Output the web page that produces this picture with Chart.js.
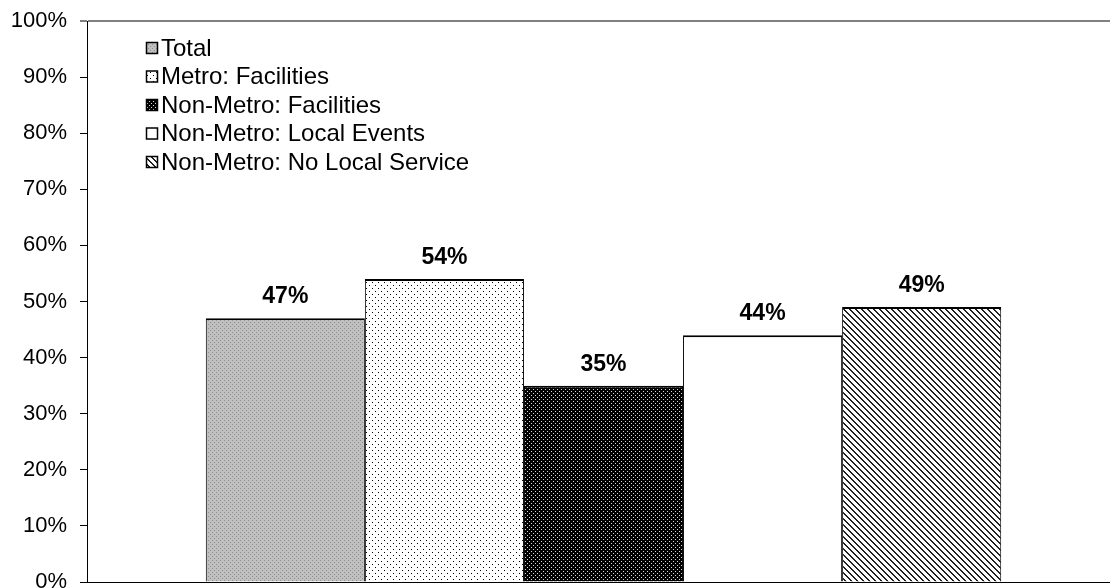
<!DOCTYPE html>
<html>
<head>
<meta charset="utf-8">
<script src="https://cdn.jsdelivr.net/npm/chart.js@4.4.1/dist/chart.umd.min.js"></script>
<style>
  html, body { margin: 0; padding: 0; background: #fff; }
  #wrap { width: 1110px; height: 588px; }
</style>
</head>
<body>
<div id="wrap"><canvas id="chart" width="1110" height="588"></canvas></div>
<script>
// one unnamed category, five series
const categories = [''];
const seriesNames = [
    'Total',
    'Metro: Facilities',
    'Non-Metro: Facilities',
    'Non-Metro: Local Events',
    'Non-Metro: No Local Service'
];
const seriesValues = [47, 54, 35, 44, 49];
const yTickValues = [0, 10, 20, 30, 40, 50, 60, 70, 80, 90, 100];

const FONT = '"Liberation Sans", Arial, sans-serif';

// small tiles turned into canvas patterns for the bar fills
function makePattern(size, paint) {
    const c = document.createElement('canvas');
    c.width = size;
    c.height = size;
    const g = c.getContext('2d');
    paint(g, size);
    return g.createPattern(c, 'repeat');
}

function dotTile(bg, dot, points) {
    return (g, s) => {
        g.fillStyle = bg;
        g.fillRect(0, 0, s, s);
        g.fillStyle = dot;
        points.forEach(p => g.fillRect(p[0], p[1], 1, 1));
    };
}

const fills = [
    makePattern(4, dotTile('#c0c0c0', '#8c8c8c', [[0, 0], [2, 2]])),
    makePattern(6, dotTile('#ffffff', '#000000', [[0, 0], [3, 3]])),
    makePattern(4, dotTile('#000000', '#d8d8d8', [[1, 1], [3, 3]])),
    '#ffffff',
    makePattern(6, (g, s) => {
        g.fillStyle = '#ffffff';
        g.fillRect(0, 0, s, s);
        g.fillStyle = '#202020';
        for (let y = 0; y < s; y++) {
            for (let x = 0; x < s; x++) {
                const d = ((x - y) % s + s) % s;
                if (d < 2) g.fillRect(x, y, 1, 1);
            }
        }
    })
];

// the plot area runs a little past the right edge of the canvas
const widenPlot = {
    id: 'widenPlot',
    afterLayout(chart) {
        const extra = 10;
        const x = chart.scales.x;
        x.right += extra;
        x.width += extra;
        x.configure();
        chart.chartArea.right += extra;
        chart.chartArea.width += extra;
    }
};

// value labels above each bar
const valueLabels = {
    id: 'valueLabels',
    afterDatasetsDraw(chart) {
        const ctx = chart.ctx;
        ctx.save();
        ctx.font = 'bold 23px ' + FONT;
        ctx.fillStyle = '#000';
        ctx.textAlign = 'center';
        ctx.textBaseline = 'alphabetic';
        chart.data.datasets.forEach((ds, i) => {
            const bar = chart.getDatasetMeta(i).data[0];
            ctx.fillText(ds.data[0] + '%', bar.x, bar.y - 15);
        });
        ctx.restore();
    }
};

// legend drawn inside the plot, top left
const insideLegend = {
    id: 'insideLegend',
    afterDraw(chart) {
        const ctx = chart.ctx;
        ctx.save();
        ctx.font = '24px ' + FONT;
        ctx.textBaseline = 'middle';
        ctx.textAlign = 'left';
        chart.data.datasets.forEach((ds, i) => {
            const cy = 48 + i * 28.5;
            ctx.fillStyle = ds.backgroundColor;
            ctx.fillRect(146, cy - 6, 12, 12);
            ctx.strokeStyle = '#000';
            ctx.lineWidth = 1.5;
            ctx.strokeRect(146.5, cy - 5.5, 11, 11);
            ctx.fillStyle = '#000';
            ctx.fillText(ds.label, 161, cy + 1);
        });
        ctx.restore();
    }
};

const datasets = seriesNames.map((name, i) => ({
    label: name,
    data: [seriesValues[i]],
    backgroundColor: fills[i],
    borderColor: '#000',
    borderWidth: { top: 2, left: 1, right: 1, bottom: 0 },
    borderSkipped: false,
    barPercentage: 1,
    categoryPercentage: 0.77
}));

new Chart(document.getElementById('chart').getContext('2d'), {
    type: 'bar',
    data: { labels: categories, datasets: datasets },
    options: {
        responsive: false,
        animation: false,
        devicePixelRatio: 1,
        layout: { padding: { top: 21, bottom: 6, left: 0, right: 0 } },
        plugins: {
            legend: { display: false },
            tooltip: { enabled: false }
        },
        scales: {
            x: {
                ticks: { display: false },
                grid: { display: false, drawTicks: false, tickLength: 0 },
                border: { display: true, color: '#000', width: 1 },
                afterFit(scale) {
                    scale.height = 0;
                }
            },
            y: {
                min: 0,
                max: 100,
                afterBuildTicks(scale) {
                    scale.ticks = yTickValues.map(v => ({ value: v }));
                },
                afterFit(scale) {
                    scale.width = 87;
                    scale.paddingTop = 0;
                    scale.paddingBottom = 0;
                },
                ticks: {
                    color: '#000',
                    padding: 13,
                    font: { family: FONT, size: 22 },
                    callback: v => v + '%'
                },
                grid: {
                    drawOnChartArea: true,
                    tickLength: 7,
                    color: c => (c.tick && c.tick.value === 100) ? '#808080' : 'rgba(0,0,0,0)',
                    tickColor: c => (c.tick && c.tick.value === 100) ? '#808080' : '#000',
                    lineWidth: c => (c.tick && c.tick.value === 100) ? 2 : 1
                },
                border: { display: true, color: '#000', width: 1 }
            }
        }
    },
    plugins: [widenPlot, valueLabels, insideLegend]
});
</script>
</body>
</html>
